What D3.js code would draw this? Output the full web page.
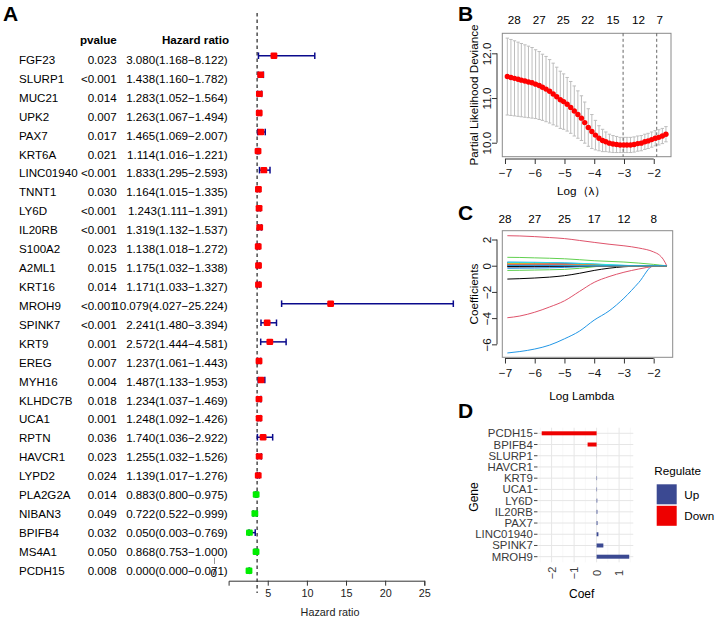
<!DOCTYPE html>
<html><head><meta charset="utf-8">
<script src="https://cdn.jsdelivr.net/npm/d3@7"></script>
<style>
body{margin:0;background:#fff}
svg{display:block}
text{font-family:"Liberation Sans",Arial,Helvetica,sans-serif}
</style>
</head><body>
<svg id="c" width="717" height="621"></svg>
<script>
// ---------------- Panel A: univariate Cox forest plot ----------------
const forestGenes = ["FGF23","SLURP1","MUC21","UPK2","PAX7","KRT6A","LINC01940","TNNT1","LY6D","IL20RB","S100A2","A2ML1","KRT16","MROH9","SPINK7","KRT9","EREG","MYH16","KLHDC7B","UCA1","RPTN","HAVCR1","LYPD2","PLA2G2A","NIBAN3","BPIFB4","MS4A1","PCDH15"];
const forestP = ["0.023","<0.001","0.014","0.007","0.017","0.021","<0.001","0.030","<0.001","<0.001","0.023","0.015","0.014","<0.001","<0.001","0.001","0.007","0.004","0.018","0.001","0.036","0.023","0.024","0.014","0.049","0.032","0.050","0.008"];
const forestHR = [3.080,1.438,1.283,1.263,1.465,1.114,1.833,1.164,1.243,1.319,1.138,1.175,1.171,10.079,2.241,2.572,1.237,1.487,1.234,1.248,1.740,1.255,1.139,0.883,0.722,0.050,0.868,0.000];
const forestLow = [1.168,1.160,1.052,1.067,1.069,1.016,1.295,1.015,1.111,1.132,1.018,1.032,1.033,4.027,1.480,1.444,1.061,1.133,1.037,1.092,1.036,1.032,1.017,0.800,0.522,0.003,0.753,0.000];
const forestHigh = [8.122,1.782,1.564,1.494,2.007,1.221,2.593,1.335,1.391,1.537,1.272,1.338,1.327,25.224,3.394,4.581,1.443,1.953,1.469,1.426,2.922,1.526,1.276,0.975,0.999,0.769,1.000,0.071];
const forestTicks = [5,10,15,20,25];

// ---------------- Panel B: cv.glmnet partial likelihood deviance ----------------
const bLogLambda = [-6.92,-6.80,-6.68,-6.56,-6.45,-6.33,-6.21,-6.09,-5.97,-5.85,-5.74,-5.62,-5.50,-5.38,-5.26,-5.14,-5.03,-4.91,-4.79,-4.67,-4.55,-4.43,-4.32,-4.20,-4.08,-3.96,-3.84,-3.72,-3.61,-3.49,-3.37,-3.25,-3.13,-3.01,-2.90,-2.78,-2.66,-2.54,-2.42,-2.30,-2.19,-2.07,-1.95,-1.83,-1.71,-1.59];
const bDeviance = [11.48,11.46,11.44,11.42,11.40,11.38,11.36,11.34,11.31,11.28,11.24,11.20,11.15,11.09,11.03,10.96,10.92,10.86,10.79,10.71,10.63,10.55,10.45,10.34,10.25,10.17,10.10,10.05,10.02,9.99,9.97,9.96,9.95,9.95,9.95,9.95,9.96,9.98,9.99,10.02,10.04,10.07,10.10,10.12,10.15,10.19];
const bSE = [0.86,0.85,0.84,0.83,0.82,0.81,0.80,0.79,0.77,0.76,0.74,0.73,0.71,0.69,0.66,0.64,0.62,0.60,0.58,0.56,0.53,0.50,0.46,0.42,0.38,0.33,0.28,0.25,0.22,0.20,0.19,0.18,0.17,0.17,0.17,0.17,0.17,0.17,0.17,0.17,0.17,0.17,0.17,0.17,0.17,0.17];
const bTopPos = [-6.69,-5.85,-5.04,-4.22,-3.37,-2.51,-1.80];
const bTopLabels = ["28","27","25","22","15","12","7"];
const bVLines = [-3.03,-1.90];
const bXTicks = [-7,-6,-5,-4,-3,-2];
const bYTicks = [10,11,12];

// ---------------- Panel C: LASSO coefficient paths ----------------
const cLogLambda = [-6.92,-6.5,-6.0,-5.5,-5.0,-4.5,-4.0,-3.5,-3.0,-2.5,-2.0,-1.8,-1.68,-1.56];
const cPaths = [
  [-1.02,-0.99,-0.94,-0.87,-0.76,-0.58,-0.36,-0.19,-0.08,-0.02,0,0,0,0],
  [2.29,2.27,2.22,2.15,2.07,1.93,1.78,1.64,1.52,1.35,1.05,0.80,0.50,0],
  [0.64,0.63,0.60,0.57,0.53,0.46,0.38,0.33,0.28,0.20,0.10,0.05,0.02,0],
  [-6.66,-6.55,-6.36,-6.06,-5.58,-5.00,-4.15,-3.45,-2.48,-1.28,0,0,0,0],
  [0.14,0.14,0.13,0.12,0.11,0.10,0.08,0.03,0,0,0,0,0,0],
  [0.10,0.10,0.09,0.08,0.07,0.05,0.02,0,0,0,0,0,0,0],
  [0.05,0.05,0.04,0.04,0.03,0.02,0,0,0,0,0,0,0,0],
  [-0.12,-0.12,-0.11,-0.10,-0.08,-0.05,-0.01,0,0,0,0,0,0,0],
  [0.22,0.21,0.20,0.19,0.17,0.13,0.07,0.02,0,0,0,0,0,0],
  [-3.97,-3.84,-3.55,-3.15,-2.68,-1.97,-1.27,-0.83,-0.50,-0.25,-0.05,0,0,0],
  [-0.36,-0.35,-0.33,-0.31,-0.28,-0.20,-0.08,0,0,0,0,0,0,0],
  [0.28,0.27,0.26,0.24,0.21,0.17,0.12,0.06,0.02,0,0,0,0,0],
  [0.06,0.06,0.06,0.05,0.05,0.04,0.03,0.02,0.01,0,0,0,0,0],
  [0.18,0.18,0.17,0.16,0.14,0.10,0.04,0,0,0,0,0,0,0],
  [-0.05,-0.05,-0.04,-0.04,-0.03,-0.01,0,0,0,0,0,0,0,0],
  [0.08,0.08,0.07,0.07,0.06,0.05,0.03,0.01,0,0,0,0,0,0],
  [0.02,0.02,0.02,0.02,0.01,0.01,0,0,0,0,0,0,0,0],
  [-0.08,-0.08,-0.07,-0.06,-0.05,-0.03,0,0,0,0,0,0,0,0],
  [0.12,0.12,0.11,0.10,0.09,0.07,0.05,0.03,0.01,0,0,0,0,0],
  [-0.20,-0.19,-0.18,-0.16,-0.13,-0.08,-0.02,0,0,0,0,0,0,0],
  [0.25,0.25,0.24,0.23,0.21,0.18,0.14,0.08,0.03,0,0,0,0,0],
  [-0.02,-0.02,-0.02,-0.01,-0.01,0,0,0,0,0,0,0,0,0],
  [0.15,0.15,0.14,0.13,0.11,0.08,0.04,0.01,0,0,0,0,0,0],
  [0.04,0.04,0.04,0.03,0.03,0.02,0.01,0,0,0,0,0,0,0],
  [-0.06,-0.06,-0.05,-0.05,-0.04,-0.02,0,0,0,0,0,0,0,0],
  [0.09,0.09,0.08,0.08,0.07,0.05,0.03,0.01,0,0,0,0,0,0],
  [0.03,0.03,0.03,0.02,0.02,0.01,0,0,0,0,0,0,0,0],
  [0.01,0.01,0.01,0.01,0,0,0,0,0,0,0,0,0,0]
];
const cPalette = ["#000000","#DF536B","#61D04F","#2297E6","#28E2E5","#CD0BBC","#F5C710","#9E9E9E"];
const cTopPos = [-7,-6,-5,-4,-3,-2];
const cTopLabels = ["28","27","25","17","12","8"];
const cXTicks = [-7,-6,-5,-4,-3,-2];
const cYTicks = [2,0,-2,-4,-6];

// ---------------- Panel D: LASSO coefficients ----------------
const dGenes = ["PCDH15","BPIFB4","SLURP1","HAVCR1","KRT9","UCA1","LY6D","IL20RB","PAX7","LINC01940","SPINK7","MROH9"];
const dCoef = [-2.44,-0.40,0.002,0.002,0.02,0.02,0.03,0.035,0.04,0.08,0.30,1.45];
const dTicks = [-2,-1,0,1];
const dMinor = [-2.5,-1.5,-0.5,0.5,1.5];
const dLegend = ["Up","Down"];
const dColors = {Up:"#3B4992", Down:"#EE0000"};

const svg = d3.select("#c");
svg.append("rect").attr("width",717).attr("height",621).attr("fill","#fff");
const minus = s => String(s).replace("-", "\u2212");

// ======== Panel A ========
const A = svg.append("g");
A.append("text").attr("x",3).attr("y",21).attr("font-size",21).attr("font-weight","bold").text("A");
const yText = d3.scalePoint().domain(forestGenes).range([59.7,570.7]);
const yMark = d3.scalePoint().domain(forestGenes).range([55.7,570.8]);
const fs = 11.6;
A.append("text").attr("x",116.7).attr("y",43.8).attr("text-anchor","end").attr("font-size",fs).attr("font-weight","bold").text("pvalue");
A.append("text").attr("x",229).attr("y",43.8).attr("text-anchor","end").attr("font-size",fs).attr("font-weight","bold").text("Hazard ratio");
const rowsA = A.selectAll("g.row").data(forestGenes).join("g").attr("class","row");
rowsA.append("text").attr("x",19).attr("y",d=>yText(d)+4.2).attr("font-size",fs).text(d=>d);
rowsA.append("text").attr("x",116.7).attr("y",d=>yText(d)+4.2).attr("text-anchor","end").attr("font-size",fs).text((d,i)=>forestP[i]);
rowsA.append("text").attr("x",227.7).attr("y",d=>yText(d)+4.2).attr("text-anchor","end").attr("font-size",fs)
  .text((d,i)=>forestHR[i].toFixed(3)+"("+forestLow[i].toFixed(3)+"\u2212"+forestHigh[i].toFixed(3)+")");

const xData = d3.scaleLinear().domain([0,25]).range([249,451.5]);
const xAx = d3.scaleLinear().domain([0,25]).range([228.6,424.3]);
// reference line at HR = 1
A.append("line").attr("x1",xData(1)).attr("x2",xData(1)).attr("y1",13).attr("y2",593)
  .attr("stroke","#222").attr("stroke-width",1.2).attr("stroke-dasharray","3.5,3");
const eb = A.selectAll("g.eb").data(forestGenes).join("g").attr("class","eb");
eb.append("line").attr("x1",(d,i)=>xData(forestLow[i])).attr("x2",(d,i)=>xData(forestHigh[i]))
  .attr("y1",d=>yMark(d)).attr("y2",d=>yMark(d)).attr("stroke","#0a0a8c").attr("stroke-width",1.5);
eb.append("line").attr("x1",(d,i)=>xData(forestLow[i])).attr("x2",(d,i)=>xData(forestLow[i]))
  .attr("y1",d=>yMark(d)-3.3).attr("y2",d=>yMark(d)+3.3).attr("stroke","#0a0a8c").attr("stroke-width",1.5);
eb.append("line").attr("x1",(d,i)=>xData(forestHigh[i])).attr("x2",(d,i)=>xData(forestHigh[i]))
  .attr("y1",d=>yMark(d)-3.3).attr("y2",d=>yMark(d)+3.3).attr("stroke","#0a0a8c").attr("stroke-width",1.5);
eb.append("rect").attr("x",(d,i)=>xData(forestHR[i])-3.4).attr("y",d=>yMark(d)-3.2)
  .attr("width",6.8).attr("height",6.4).attr("rx",1.2)
  .attr("fill",(d,i)=>forestHR[i]>1?"#ff0000":"#00ee00");
const axA = A.append("g").attr("transform","translate(0,580.7)")
  .call(d3.axisBottom(xAx).tickValues(forestTicks).tickSizeOuter(0).tickSize(5).tickPadding(4));
axA.select(".domain").attr("stroke","#333");
axA.selectAll(".tick line").attr("stroke","#333");
axA.selectAll(".tick text").attr("font-size",10.8).attr("fill","#222").attr("font-family","Liberation Sans, Arial, sans-serif");
A.append("text").attr("x",330).attr("y",615.5).attr("text-anchor","middle").attr("font-size",10.8).attr("fill","#222").text("Hazard ratio");
// stray zero tick visible in the original
A.append("line").attr("x1",214.5).attr("x2",214.5).attr("y1",557.5).attr("y2",564).attr("stroke","#999").attr("stroke-width",1);
A.append("text").attr("x",213.7).attr("y",577).attr("text-anchor","middle").attr("font-size",11.6).text("0");

// ======== Panel B ========
const B = svg.append("g");
B.append("text").attr("x",458).attr("y",21).attr("font-size",21).attr("font-weight","bold").text("B");
const xB = d3.scaleLinear().domain([-7.09,-1.42]).range([502.3,671]);
const yB = d3.scaleLinear().domain([9.687,12.448]).range([156.7,33.3]);
B.append("rect").attr("x",502.3).attr("y",33.3).attr("width",671-502.3).attr("height",156.7-33.3)
  .attr("fill","none").attr("stroke","#8a8a8a").attr("stroke-width",1);
const bars = B.selectAll("g.bar").data(bLogLambda).join("g").attr("class","bar");
bars.append("line").attr("x1",d=>xB(d)).attr("x2",d=>xB(d))
  .attr("y1",(d,i)=>yB(bDeviance[i]+bSE[i])).attr("y2",(d,i)=>yB(bDeviance[i]-bSE[i]))
  .attr("stroke","#bdbdbd").attr("stroke-width",1);
bars.append("line").attr("x1",d=>xB(d)-1.7).attr("x2",d=>xB(d)+1.7)
  .attr("y1",(d,i)=>yB(bDeviance[i]+bSE[i])).attr("y2",(d,i)=>yB(bDeviance[i]+bSE[i]))
  .attr("stroke","#bdbdbd").attr("stroke-width",1);
bars.append("line").attr("x1",d=>xB(d)-1.7).attr("x2",d=>xB(d)+1.7)
  .attr("y1",(d,i)=>yB(bDeviance[i]-bSE[i])).attr("y2",(d,i)=>yB(bDeviance[i]-bSE[i]))
  .attr("stroke","#bdbdbd").attr("stroke-width",1);
B.selectAll("line.vl").data(bVLines).join("line").attr("class","vl")
  .attr("x1",d=>xB(d)).attr("x2",d=>xB(d)).attr("y1",33.3).attr("y2",156.7)
  .attr("stroke","#555").attr("stroke-width",0.9).attr("stroke-dasharray","3,2.5");
B.selectAll("circle").data(bLogLambda).join("circle")
  .attr("cx",d=>xB(d)).attr("cy",(d,i)=>yB(bDeviance[i])).attr("r",2.7).attr("fill","#ff0000");
const axBx = B.append("g").attr("transform","translate(0,159)")
  .call(d3.axisBottom(xB).tickValues(bXTicks).tickSizeOuter(0).tickSize(5).tickPadding(5).tickFormat(d=>minus(d)));
const axBy = B.append("g").attr("transform","translate(497,0)")
  .call(d3.axisLeft(yB).tickValues(bYTicks).tickSizeOuter(0).tickSize(5).tickFormat(d=>d.toFixed(1)));
axBy.selectAll(".tick text").attr("transform","rotate(-90)").attr("text-anchor","middle").attr("x",0).attr("y",-6.5).attr("dy",0);
axBy.select(".domain").attr("d",`M0,${yB(10)}V${yB(12)}`);
axBx.select(".domain").attr("d",`M${xB(-7)},0H${xB(-2)}`);
[axBx,axBy].forEach(g=>{
  g.selectAll(".tick text").attr("font-size",11.7).attr("fill","#111").attr("font-family","Liberation Sans, Arial, sans-serif");
  g.selectAll(".tick line").attr("stroke","#333");
  g.select(".domain").attr("stroke","#333");
});
B.selectAll("text.top").data(bTopPos).join("text").attr("class","top")
  .attr("x",d=>xB(d)).attr("y",23.5).attr("text-anchor","middle").attr("font-size",11.7).text((d,i)=>bTopLabels[i]);
B.append("text").attr("x",581.7).attr("y",194.5).attr("text-anchor","middle").attr("font-size",11.7).text("Log\uFF08\u03BB\uFF09");
B.append("text").attr("transform","translate(477.5,95) rotate(-90)").attr("text-anchor","middle").attr("font-size",11.7).text("Partial Likelihood Deviance");

// ======== Panel C ========
const C = svg.append("g");
C.append("text").attr("x",458).attr("y",220).attr("font-size",21).attr("font-weight","bold").text("C");
const xC = d3.scaleLinear().domain([-7.09,-1.36]).range([502.3,672.7]);
const yC = d3.scaleLinear().domain([-6.99,2.672]).range([357.3,230.7]);
C.append("rect").attr("x",502.3).attr("y",230.7).attr("width",672.7-502.3).attr("height",357.3-230.7)
  .attr("fill","none").attr("stroke","#8a8a8a").attr("stroke-width",1);
const lineC = d3.line().x((d,i)=>xC(cLogLambda[i])).y(d=>yC(d)).curve(d3.curveMonotoneX);
C.selectAll("path.coef").data(cPaths).join("path").attr("class","coef")
  .attr("d",d=>lineC(d)).attr("fill","none").attr("stroke",(d,i)=>cPalette[i%8]).attr("stroke-width",1);
const axCx = C.append("g").attr("transform","translate(0,358.5)")
  .call(d3.axisBottom(xC).tickValues(cXTicks).tickSizeOuter(0).tickSize(5).tickPadding(5).tickFormat(d=>minus(d)));
const axCy = C.append("g").attr("transform","translate(497,0)")
  .call(d3.axisLeft(yC).tickValues(cYTicks).tickSizeOuter(0).tickSize(5).tickFormat(d=>minus(d)));
axCy.selectAll(".tick text").attr("transform","rotate(-90)").attr("text-anchor","middle").attr("x",0).attr("y",-6.5).attr("dy",0);
axCy.select(".domain").attr("d",`M0,${yC(-6)}V${yC(2)}`);
axCx.select(".domain").attr("d",`M${xC(-7)},0H${xC(-2)}`);
[axCx,axCy].forEach(g=>{
  g.selectAll(".tick text").attr("font-size",11.7).attr("fill","#111").attr("font-family","Liberation Sans, Arial, sans-serif");
  g.selectAll(".tick line").attr("stroke","#333");
  g.select(".domain").attr("stroke","#333");
});
C.selectAll("text.top").data(cTopPos).join("text").attr("class","top")
  .attr("x",d=>xC(d)).attr("y",222.5).attr("text-anchor","middle").attr("font-size",11.7).text((d,i)=>cTopLabels[i]);
C.append("text").attr("x",581.7).attr("y",400).attr("text-anchor","middle").attr("font-size",11.7).text("Log Lambda");
C.append("text").attr("transform","translate(477.5,294) rotate(-90)").attr("text-anchor","middle").attr("font-size",11.7).text("Coefficients");

// ======== Panel D ========
const D = svg.append("g");
D.append("text").attr("x",458).attr("y",418).attr("font-size",21).attr("font-weight","bold").text("D");
const xD = d3.scaleLinear().domain([-2.591,1.631]).range([538.3,633.3]);
const yD = d3.scalePoint().domain(dGenes).range([433.3,556.7]);
const pTop = 427.7, pBot = 562.3;
D.selectAll("line.gmin").data(dMinor).join("line").attr("class","gmin")
  .attr("x1",d=>xD(d)).attr("x2",d=>xD(d)).attr("y1",pTop).attr("y2",pBot).attr("stroke","#f2f2f2").attr("stroke-width",0.6);
D.selectAll("line.gmaj").data(dTicks).join("line").attr("class","gmaj")
  .attr("x1",d=>xD(d)).attr("x2",d=>xD(d)).attr("y1",pTop).attr("y2",pBot).attr("stroke","#e6e6e6").attr("stroke-width",1);
D.selectAll("line.gh").data(dGenes).join("line").attr("class","gh")
  .attr("x1",538.3).attr("x2",633.3).attr("y1",d=>yD(d)).attr("y2",d=>yD(d)).attr("stroke","#e6e6e6").attr("stroke-width",1);
D.selectAll("rect.bar").data(dGenes).join("rect").attr("class","bar")
  .attr("x",(d,i)=>xD(Math.min(0,dCoef[i]))).attr("width",(d,i)=>Math.abs(xD(dCoef[i])-xD(0)))
  .attr("y",d=>yD(d)-2).attr("height",4)
  .attr("fill",(d,i)=>dCoef[i]>0?dColors.Up:dColors.Down);
D.selectAll("text.gl").data(dGenes).join("text").attr("class","gl")
  .attr("x",532.8).attr("y",d=>yD(d)+4).attr("text-anchor","end").attr("font-size",11.4).attr("fill","#3a3a3a").text(d=>d);
D.selectAll("line.gt").data(dGenes).join("line").attr("class","gt")
  .attr("x1",534).attr("x2",537.5).attr("y1",d=>yD(d)).attr("y2",d=>yD(d)).attr("stroke","#444").attr("stroke-width",1);
D.selectAll("text.xt").data(dTicks).join("text").attr("class","xt")
  .attr("transform",d=>`translate(${xD(d)+4},573) rotate(-90)`).attr("text-anchor","middle")
  .attr("font-size",11).attr("fill","#3a3a3a").text(d=>minus(d));
D.append("text").attr("x",581.7).attr("y",597.5).attr("text-anchor","middle").attr("font-size",12).text("Coef");
D.append("text").attr("transform","translate(477.5,497) rotate(-90)").attr("text-anchor","middle").attr("font-size",12).text("Gene");
D.append("text").attr("x",654.3).attr("y",475).attr("font-size",11.7).text("Regulate");
const lg = D.selectAll("g.lg").data(dLegend).join("g").attr("class","lg");
lg.append("rect").attr("x",656.7).attr("y",(d,i)=>484.3+i*21.5).attr("width",20).attr("height",20).attr("fill",d=>dColors[d]);
lg.append("text").attr("x",684.3).attr("y",(d,i)=>494.3+i*21.5+4.2).attr("font-size",11.7).text(d=>d);
</script>
</body></html>
